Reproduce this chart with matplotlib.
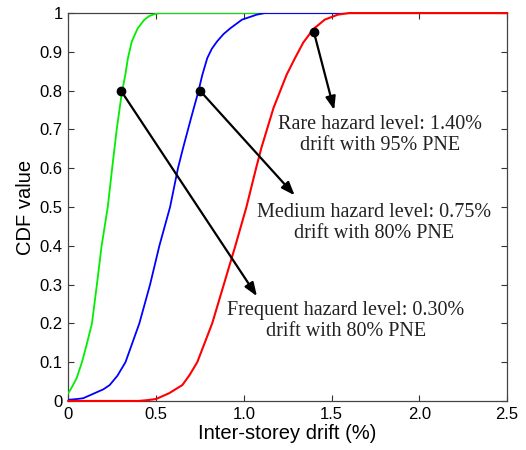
import matplotlib
matplotlib.use("Agg")
import matplotlib.pyplot as plt

# Drift (%) and CDF values for each hazard level
drift_frequent = [0, 0.02, 0.047, 0.078, 0.104, 0.135, 0.163, 0.19, 0.225, 0.25,
                  0.276, 0.305, 0.325, 0.34, 0.362, 0.396, 0.434, 0.46, 0.49, 0.52, 2.5]
cdf_frequent = [0.02, 0.035, 0.058, 0.10, 0.144, 0.20, 0.30, 0.40, 0.50, 0.60,
                0.70, 0.794, 0.841, 0.884, 0.927, 0.961, 0.983, 0.992, 0.997, 1.0, 1.0]

drift_medium = [0, 0.05, 0.085, 0.15, 0.20, 0.236, 0.28, 0.326, 0.405, 0.466, 0.519,
                0.58, 0.625, 0.654, 0.70, 0.739, 0.764, 0.792, 0.818, 0.848, 0.885,
                0.924, 0.99, 1.075, 1.12, 2.5]
cdf_medium = [0.003, 0.005, 0.007, 0.02, 0.03, 0.041, 0.065, 0.10, 0.20, 0.30, 0.40,
              0.50, 0.60, 0.652, 0.73, 0.794, 0.841, 0.884, 0.908, 0.927, 0.946,
              0.961, 0.983, 0.996, 1.0, 1.0]

drift_rare = [0, 0.40, 0.45, 0.50, 0.575, 0.65, 0.69, 0.735, 0.82, 0.886, 0.952, 1.015,
              1.07, 1.10, 1.169, 1.244, 1.292, 1.339, 1.395, 1.461, 1.537, 1.60, 2.5]
cdf_rare = [0, 0, 0.002, 0.005, 0.02, 0.041, 0.066, 0.10, 0.20, 0.30, 0.40, 0.50,
            0.60, 0.652, 0.755, 0.841, 0.884, 0.924, 0.958, 0.983, 0.996, 1.0, 1.0]

# Highlighted performance points (drift %, probability of non-exceedance)
point_drift = [0.30, 0.75, 1.40]
point_cdf = [0.80, 0.80, 0.95]
point_text = ["Frequent hazard level: 0.30%\ndrift with 80% PNE",
              "Medium hazard level: 0.75%\ndrift with 80% PNE",
              "Rare hazard level: 1.40%\ndrift with 95% PNE"]
arrow_tip = [(1.075, 0.27), (1.29, 0.53), (1.515, 0.75)]
text_pos = [(1.58, 0.205), (1.745, 0.459), (1.775, 0.686)]

x_ticks = [0, 0.5, 1.0, 1.5, 2.0, 2.5]
x_tick_labels = ["0", "0.5", "1.0", "1.5", "2.0", "2.5"]
y_ticks = [0, 0.1, 0.2, 0.3, 0.4, 0.5, 0.6, 0.7, 0.8, 0.9, 1.0]
y_tick_labels = ["0", "0.1", "0.2", "0.3", "0.4", "0.5", "0.6", "0.7", "0.8", "0.9", "1"]

fig = plt.figure(figsize=(5.26, 4.5), dpi=100)
ax = fig.add_axes([0.1298, 0.109, 0.8342, 0.862])

ax.plot(drift_frequent, cdf_frequent, color="#00ee00", lw=1.3, zorder=3,
        solid_joinstyle="round")
ax.plot(drift_medium, cdf_medium, color="#0000ff", lw=1.3, zorder=3,
        solid_joinstyle="round")
ax.plot(drift_rare, cdf_rare, color="#ff0000", lw=1.5, zorder=4, clip_on=False,
        solid_joinstyle="round")

for xd, yc, txt, tip, tpos in zip(point_drift, point_cdf, point_text, arrow_tip, text_pos):
    ax.annotate("", xy=tip, xytext=(xd, yc),
                arrowprops=dict(arrowstyle="-|>,head_length=0.8,head_width=0.3",
                                color="black", lw=1.6, shrinkA=0, shrinkB=0),
                zorder=5)
    ax.plot([xd], [yc], "o", color="black", ms=6, zorder=6)
    ax.text(tpos[0], tpos[1], txt, ha="center", va="center",
            family="Liberation Serif", fontsize=14.5, color="#222222",
            linespacing=1.15, zorder=7)

ax.set_xlim(0, 2.5)
ax.set_ylim(0, 1)
ax.set_xticks(x_ticks)
ax.set_xticklabels(x_tick_labels)
ax.set_yticks(y_ticks)
ax.set_yticklabels(y_tick_labels)
ax.tick_params(direction="in", top=True, right=True, length=4, width=0.8,
               labelsize=12, pad=4, colors="#333333", labelcolor="black")
for lbl in ax.get_xticklabels() + ax.get_yticklabels():
    lbl.set_family("Liberation Sans")
for sp in ax.spines.values():
    sp.set_color("#444444")
    sp.set_linewidth(0.9)

ax.set_xlabel("Inter-storey drift (%)", family="Liberation Sans", fontsize=14.5, labelpad=2)
ax.set_ylabel("CDF value", family="Liberation Sans", fontsize=14.5, labelpad=3)

fig.savefig("out.png", dpi=100)
